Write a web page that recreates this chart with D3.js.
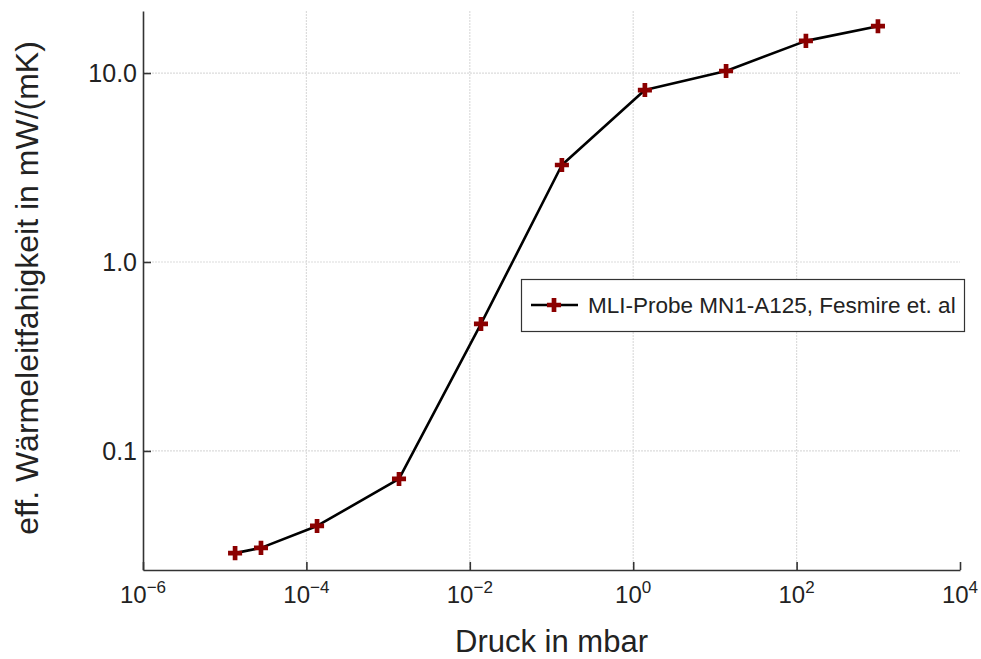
<!DOCTYPE html>
<html>
<head>
<meta charset="utf-8">
<script src="https://cdn.jsdelivr.net/npm/d3@7"></script>
<style>
    body { margin: 0; background: #fff; }
    svg { display: block; font-family: "Liberation Sans", Arial, sans-serif; }
</style>
</head>
<body>
<svg id="chart" width="981" height="659"></svg>
<script>
"use strict";

// data
const druck = [1.34e-5, 2.78e-5, 1.35e-4, 1.36e-3, 1.37e-2, 0.134, 1.39, 13.7, 130, 990];
const lambda = [0.0288, 0.0307, 0.0401, 0.0711, 0.47, 3.26, 8.13, 10.25, 14.8, 17.7];
const xTicks = [1e-6, 1e-4, 1e-2, 1e0, 1e2, 1e4];
const yTicks = [0.1, 1, 10];
const yTickLabels = ['0.1', '1.0', '10.0'];
const seriesName = 'MLI-Probe MN1-A125, Fesmire et. al';

const svg = d3.select('#chart');
const plotL = 143, plotR = 960, plotT = 11, plotB = 570;

const x = d3.scaleLog().domain([1e-6, 1e4]).range([plotL, plotR]);
const y = d3.scaleLog().domain([0.02344, 21.3]).range([plotB, plotT]);

// grid
let grid = svg.append('g')
    .attr('stroke', '#dcdcdc')
    .attr('stroke-width', 1.2)
    .attr('stroke-dasharray', '2,1');
grid.selectAll('.gx').data(xTicks.slice(1, -1)).join('line')
    .attr('x1', d => x(d)).attr('x2', d => x(d))
    .attr('y1', plotT).attr('y2', plotB);
grid.selectAll('.gy').data(yTicks).join('line')
    .attr('x1', plotL).attr('x2', plotR)
    .attr('y1', d => y(d)).attr('y2', d => y(d));

// axes (ticks point inward)
let xAxis = svg.append('g')
    .attr('transform', `translate(0,${plotB})`)
    .call(d3.axisBottom(x).tickValues(xTicks).tickSizeInner(-8).tickSizeOuter(0).tickFormat(''));
let yAxis = svg.append('g')
    .attr('transform', `translate(${plotL},0)`)
    .call(d3.axisLeft(y).tickValues(yTicks).tickSizeInner(-8).tickSizeOuter(0).tickFormat(''));
[xAxis, yAxis].forEach(a => {
    a.select('.domain').attr('stroke', '#333').attr('stroke-width', 1.6);
    a.selectAll('.tick line').attr('stroke', '#333').attr('stroke-width', 1.6);
});

// x tick labels as 10^n
xTicks.forEach(v => {
    let t = svg.append('text')
        .attr('x', x(v))
        .attr('y', 603)
        .attr('text-anchor', 'middle')
        .attr('font-size', 24)
        .attr('fill', '#222');
    t.append('tspan').text('10');
    t.append('tspan')
        .attr('dy', -10)
        .attr('font-size', 17)
        .text(String(Math.round(Math.log10(v))).replace('-', '\u2212'));
});

// y tick labels
svg.selectAll('.ylab').data(yTicks).join('text')
    .attr('x', 137)
    .attr('y', d => y(d))
    .attr('dy', '0.36em')
    .attr('text-anchor', 'end')
    .attr('font-size', 25)
    .attr('fill', '#222')
    .text((d, i) => yTickLabels[i]);

// axis titles
svg.append('text')
    .attr('x', (plotL + plotR) / 2)
    .attr('y', 652)
    .attr('text-anchor', 'middle')
    .attr('font-size', 31)
    .attr('fill', '#222')
    .text('Druck in mbar');
svg.append('text')
    .attr('transform', `translate(38,288) rotate(-90)`)
    .attr('text-anchor', 'middle')
    .attr('font-size', 32)
    .attr('fill', '#222')
    .text('eff. Wärmeleitfahigkeit in mW/(mK)');

// series
const line = d3.line().x(d => x(d[0])).y(d => y(d[1]));
const pts = druck.map((d, i) => [d, lambda[i]]);
svg.append('path')
    .datum(pts)
    .attr('d', line)
    .attr('fill', 'none')
    .attr('stroke', '#000')
    .attr('stroke-width', 2.6)
    .attr('stroke-linejoin', 'round');
const cross = d3.symbol().type(d3.symbolCross).size(110);
svg.selectAll('.pt').data(pts).join('path')
    .attr('transform', d => `translate(${x(d[0])},${y(d[1])})`)
    .attr('d', cross)
    .attr('fill', '#8b0000');

// legend
let lg = svg.append('g');
lg.append('rect')
    .attr('x', 521.5).attr('y', 279.5)
    .attr('width', 443).attr('height', 52)
    .attr('fill', '#fff')
    .attr('stroke', '#333')
    .attr('stroke-width', 1.2);
lg.append('line')
    .attr('x1', 531).attr('x2', 578)
    .attr('y1', 305).attr('y2', 305)
    .attr('stroke', '#000').attr('stroke-width', 2.6);
lg.append('path')
    .attr('transform', 'translate(554,305)')
    .attr('d', cross)
    .attr('fill', '#8b0000');
lg.append('text')
    .attr('x', 588).attr('y', 305)
    .attr('dy', '0.36em')
    .attr('font-size', 22.5)
    .attr('fill', '#222')
    .text(seriesName);
</script>
</body>
</html>
